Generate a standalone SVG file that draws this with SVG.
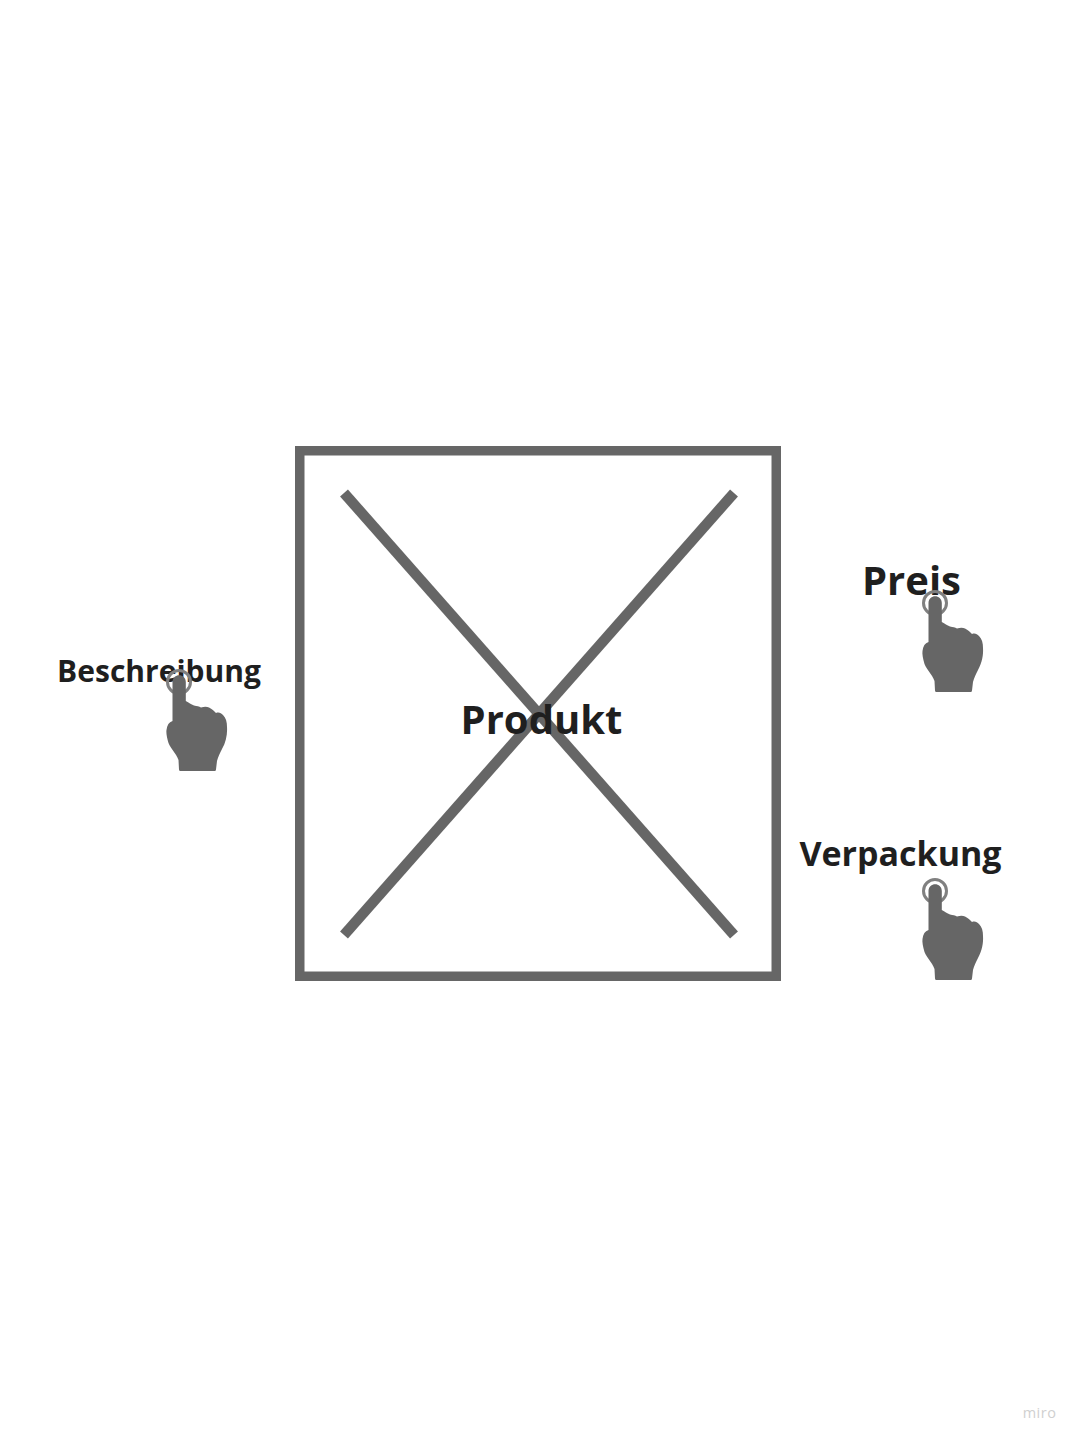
<svg xmlns="http://www.w3.org/2000/svg" width="1082" height="1443" viewBox="0 0 1082 1443">
<style>
.t{font-family:"Open Sans",sans-serif;font-weight:700;fill:#1f1f1f}
.l{stroke:#666;fill:none}
</style>
<defs>
<g id="hand">
<circle cx="0" cy="0" r="11.500" fill="none" stroke="#808080" stroke-width="3"/>
<path fill="#666" d="M-6.500 39V0C-6.500-9 6.800-9 6.800 0V19C10 20.500 12 22.500 15 23.500C18 24.500 20 24 22 25.500C25 24.500 28 24.500 30 25.500C33 27 35 29 37 31C40 30 42 31 44 33C47 36 48 40 48 45C48.500 52 47 60 43 67C41 71 39 75 38 79L37 87.500Q37 89 35.500 89H1.500Q0 89 0 87.500L-.5 78C-3 71-8 67-10.500 61C-12 56-13 51-12.500 48C-12 43-10 40-6.500 39Z"/>
</g>
</defs>
<rect width="1082" height="1443" fill="#fff"/>
<g id="connectors">
<path class="l" stroke-width="10.500" d="M344 493L734 935"/>
<path class="l" stroke-width="10.500" d="M734 493L344 935"/>
</g>
<g id="product"><rect class="l" stroke-width="9.500" x="299.750" y="450.750" width="476.500" height="525.500"/>
<text class="t" x="541.500" y="734" font-size="40" text-anchor="middle">Produkt</text></g>
<g id="preis"><text class="t" x="911.500" y="595" font-size="40" text-anchor="middle">Preis</text><use href="#hand" x="935" y="603"/></g>
<g id="beschreibung"><text class="t" x="159" y="682" font-size="30" text-anchor="middle">Beschreibung</text><use href="#hand" x="179" y="682"/></g>
<g id="verpackung"><text class="t" x="900.500" y="866" font-size="34" text-anchor="middle">Verpackung</text><use href="#hand" x="935" y="891"/></g>
<text id="miro" x="1039.500" y="1418" font-family="Open Sans,sans-serif" font-size="14.500" fill="#d0d0d0" text-anchor="middle" letter-spacing=".5">miro</text>
</svg>
